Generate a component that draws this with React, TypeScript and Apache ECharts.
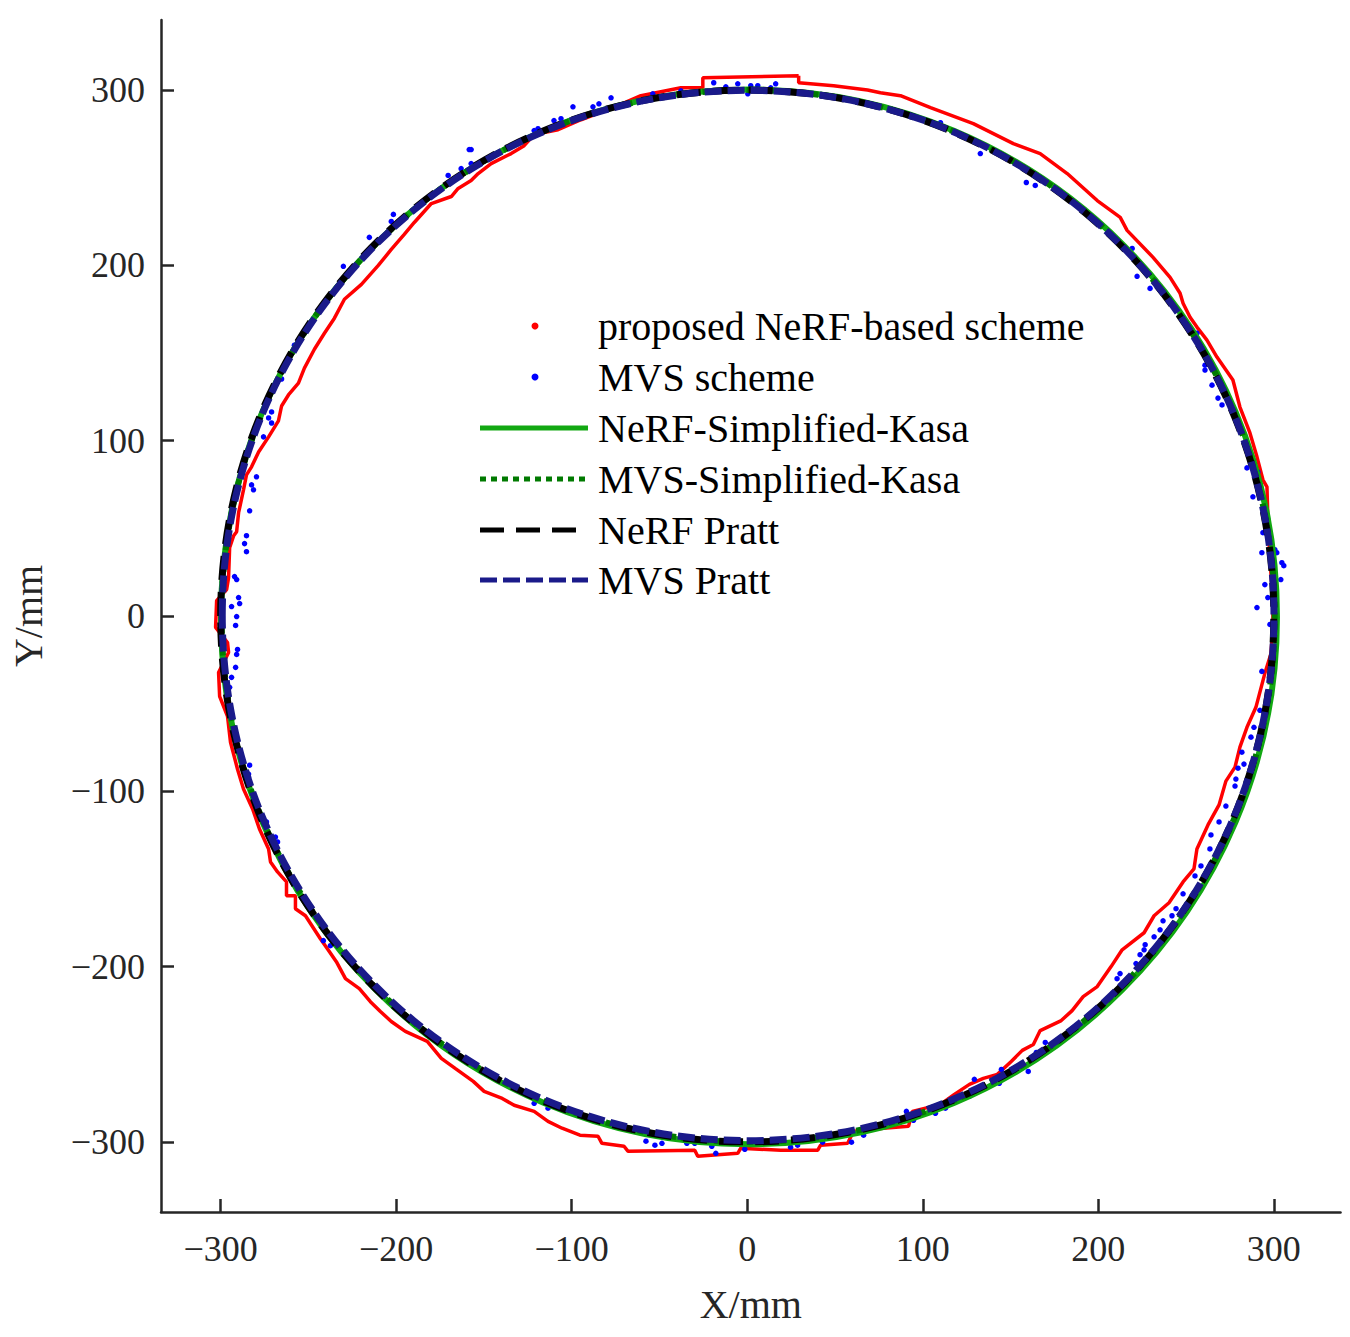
import React, { useEffect, useRef } from "react";
import * as echarts from "echarts";

// ---------- data (units: mm) ----------
const TICKS_X = [-300, -200, -100, 0, 100, 200, 300];
const TICKS_Y = [-300, -200, -100, 0, 100, 200, 300];

// proposed NeRF-based scheme: measured contour
const NERF_POINTS: [number, number][] = [
  [29.3, 308.2], [-25.3, 307.0], [-25.3, 301.3], [-37.8, 301.3], [-60.6, 296.8], [-73.7, 291.1],
  [-94.7, 283.1], [-107.8, 277.4], [-121.4, 274.6], [-127.1, 268.3], [-134.5, 263.8], [-145.9, 258.1],
  [-153.3, 252.4], [-157.3, 248.4], [-164.7, 243.9], [-168.6, 239.3], [-180.0, 235.3], [-189.7, 224.5],
  [-195.4, 217.7], [-202.8, 209.1], [-210.2, 200.0], [-219.8, 189.2], [-229.5, 180.7], [-235.2, 169.9],
  [-240.9, 161.3], [-246.6, 152.2], [-252.3, 141.4], [-255.7, 132.9], [-261.4, 126.1], [-265.3, 119.8],
  [-267.1, 111.3], [-272.7, 102.2], [-278.4, 93.6], [-282.4, 85.1], [-285.3, 80.5], [-287.0, 72.0],
  [-289.8, 58.9], [-290.9, 48.1], [-292.6, 45.8], [-294.9, 39.0], [-295.5, 21.9], [-296.6, 15.1],
  [-302.3, 8.8], [-302.9, -6.5], [-296.1, -15.1], [-295.5, -20.8], [-301.2, -32.2], [-300.6, -45.8],
  [-296.1, -57.2], [-294.4, -72.0], [-290.4, -87.4], [-287.0, -98.7], [-281.8, -110.1], [-277.9, -121.5],
  [-272.7, -132.9], [-271.6, -140.3], [-267.6, -146.0], [-262.5, -151.7], [-262.5, -159.6], [-257.4, -159.6],
  [-257.4, -167.0], [-251.7, -171.0], [-243.2, -184.1], [-239.2, -189.8], [-234.1, -197.2], [-228.9, -206.9],
  [-221.0, -212.6], [-214.7, -220.0], [-209.0, -225.6], [-202.8, -231.3], [-194.8, -237.0], [-182.3, -242.7],
  [-174.3, -252.4], [-166.4, -258.1], [-156.1, -265.5], [-149.9, -271.2], [-139.6, -275.2], [-132.8, -279.1],
  [-121.4, -282.6], [-113.5, -288.3], [-105.5, -292.2], [-95.3, -296.2], [-85.0, -296.8], [-82.8, -300.8],
  [-70.2, -302.5], [-68.0, -305.3], [-29.9, -304.8], [-28.2, -308.2], [-5.4, -306.5], [-3.7, -303.6],
  [19.1, -304.8], [40.1, -304.8], [41.8, -301.9], [57.2, -300.8], [60.6, -293.9], [77.6, -292.2],
  [91.9, -291.1], [94.1, -282.6], [110.1, -278.6], [118.0, -272.9], [126.6, -267.2], [134.5, -263.8],
  [142.5, -261.5], [150.4, -254.1], [156.7, -247.8], [163.0, -244.4], [166.9, -236.5], [178.9, -230.8],
  [185.1, -225.1], [191.4, -217.1], [199.4, -211.4], [207.3, -200.0], [213.6, -190.4], [226.1, -180.7],
  [231.8, -171.0], [240.3, -163.6], [248.3, -151.7], [254.5, -144.3], [256.2, -132.9], [262.5, -119.2],
  [268.8, -107.8], [272.7, -94.2], [277.9, -86.2], [280.7, -74.8], [284.7, -63.5], [289.8, -52.1],
  [294.9, -32.7], [298.3, -21.9], [299.5, -7.7], [299.5, 9.4], [297.8, 32.2], [296.6, 56.6],
  [296.1, 73.7], [293.8, 77.7], [290.4, 90.8], [286.4, 104.4], [280.7, 119.2], [276.7, 134.6],
  [267.6, 147.7], [261.9, 157.4], [256.2, 164.8], [252.3, 170.4], [248.3, 178.4], [246.6, 184.1],
  [240.9, 193.2], [231.2, 204.6], [216.4, 220.0], [212.5, 227.4], [199.4, 237.0], [182.3, 252.4],
  [166.9, 263.8], [151.6, 269.5], [128.8, 280.9], [104.4, 290.0], [87.3, 296.8], [75.9, 298.5],
  [68.5, 300.1], [49.2, 302.5], [29.3, 304.2], [29.3, 308.2],
];

// MVS scheme: scattered points
const MVS_POINTS: [number, number][] = [
  [-170.4, 251.3], [-163.0, 255.2], [-158.4, 266.1], [-157.3, 266.1], [-157.3, 258.1], [-121.4, 276.9],
  [-119.2, 278.0], [-110.1, 282.6], [-106.1, 283.7], [-99.3, 290.5], [-87.9, 290.5], [-84.5, 292.2],
  [-77.6, 295.6], [-53.8, 297.9], [-37.8, 299.6], [-19.1, 304.2], [-12.2, 301.9], [-5.4, 303.6],
  [0.3, 297.9], [2.0, 302.5], [6.0, 302.5], [13.4, 301.3], [16.2, 303.6],
  [110.1, 281.4], [132.8, 263.8], [159.0, 247.3], [164.1, 245.6], [219.3, 209.7], [222.1, 193.8],
  [229.5, 186.9], [256.2, 161.3], [260.8, 143.1], [260.8, 140.3], [264.8, 131.7], [268.2, 124.3],
  [270.5, 120.4], [284.7, 84.5], [288.1, 68.0], [290.9, 82.2], [293.8, 47.5], [293.2, 36.1],
  [300.6, 37.8], [301.7, 36.1], [304.6, 30.4], [305.7, 28.7], [304.0, 20.8], [294.9, 17.9],
  [296.6, 10.5], [290.4, 4.8], [297.8, -4.8], [293.2, -31.6],
  [292.1, -53.8], [288.7, -63.5], [287.0, -69.1], [281.8, -77.7], [283.0, -84.5], [279.6, -86.8],
  [278.4, -93.0], [277.9, -97.0], [272.7, -108.4], [268.8, -117.5], [264.2, -124.9], [263.6, -132.9],
  [258.5, -142.6], [255.1, -148.3], [248.3, -158.5], [244.3, -167.0], [242.0, -171.0], [236.9, -173.9],
  [235.2, -179.0], [231.8, -183.0], [226.7, -187.5], [226.1, -190.4], [223.8, -193.2], [221.5, -198.3],
  [212.4, -204.0], [210.7, -206.9], [169.8, -243.3], [164.7, -249.0], [160.1, -259.8], [144.8, -258.7],
  [143.6, -266.6], [129.4, -264.3], [126.6, -274.0], [112.9, -280.8], [107.2, -283.7], [90.7, -282.6],
  [94.7, -287.7], [66.3, -296.2], [59.4, -300.2], [42.9, -300.2], [28.7, -301.9], [24.7, -303.0],
  [-1.4, -304.2],
  [-17.9, -306.5], [-20.2, -302.5], [-29.9, -300.8], [-34.4, -300.8], [-48.6, -300.8], [-52.6, -301.9],
  [-57.7, -299.6], [-113.5, -280.8], [-121.4, -278.0], [-237.5, -188.1], [-241.5, -185.2], [-267.6, -128.9],
  [-268.8, -126.1], [-273.9, -117.5], [-284.1, -91.9], [-284.1, -90.2], [-283.5, -85.1], [-294.9, -40.7],
  [-293.8, -35.0], [-291.5, -29.3], [-290.9, -21.9],
  [-290.4, -19.1], [-291.5, -5.4], [-290.9, -0.3], [-289.2, 7.1], [-293.8, 5.4], [-289.8, 10.5],
  [-290.9, 20.8], [-292.1, 22.5], [-285.3, 36.7], [-286.4, 41.3], [-285.3, 45.8], [-283.5, 60.0],
  [-281.3, 72.0], [-282.4, 74.8], [-279.6, 79.4], [-275.6, 102.2], [-271.0, 110.1], [-272.7, 113.0],
  [-271.0, 116.4], [-265.3, 135.2], [-258.0, 154.5], [-230.1, 199.5], [-215.3, 216.0], [-202.8, 225.1],
  [-201.6, 229.1],
];

// fitted circles: centre x, centre y, radius
const FIT_NAMES = ["NeRF-Simplified-Kasa", "MVS-Simplified-Kasa", "NeRF Pratt", "MVS Pratt"];
const FIT_CX = [1.0, 0.5, 0.0, 0.5];
const FIT_CY = [-0.5, 0.0, 0.0, 0.3];
const FIT_R = [300.8, 300.0, 300.0, 299.6];

const LEGEND_LABELS = [
  "proposed NeRF-based scheme",
  "MVS scheme",
  "NeRF-Simplified-Kasa",
  "MVS-Simplified-Kasa",
  "NeRF Pratt",
  "MVS Pratt",
];

// ---------- styles ----------
const FONT = "Liberation Serif";
const AXIS_COLOR = "#262626";
const RED = "#ff0000";
const BLUE = "#0000ff";
const FIT_COLORS = ["#12a812", "#007a00", "#000000", "#1a1a8a"];
const FIT_WIDTHS = [6, 6, 7, 7];
const FIT_DASH: (number[] | null)[] = [null, [6, 5], [24, 12], [17, 6]];

const fmt = (v: number) => (v < 0 ? "\u2212" + Math.abs(v) : String(v));

function buildOption() {
  const fitSeries = FIT_NAMES.map((name, i) => ({
    name,
    type: "custom",
    data: [[FIT_CX[i], FIT_CY[i], FIT_R[i]]],
    z: 3 + i,
    silent: true,
    renderItem: (_p: any, api: any) => {
      const c = api.coord([api.value(0), api.value(1)]);
      const s = api.size([api.value(2), api.value(2)]);
      return {
        type: "ellipse",
        shape: { cx: c[0], cy: c[1], rx: s[0], ry: s[1] },
        style: {
          fill: "none",
          stroke: FIT_COLORS[i],
          lineWidth: FIT_WIDTHS[i],
          lineDash: FIT_DASH[i] || undefined,
        },
      };
    },
  }));

  const rowY = [326, 377, 428, 479, 530, 580];
  const legendGraphics: any[] = [
    { type: "circle", shape: { cx: 535, cy: rowY[0], r: 3.5 }, style: { fill: RED } },
    { type: "circle", shape: { cx: 535, cy: rowY[1], r: 3.5 }, style: { fill: BLUE } },
  ];
  for (let i = 0; i < 4; i++) {
    legendGraphics.push({
      type: "line",
      shape: { x1: 480, y1: rowY[i + 2], x2: 588, y2: rowY[i + 2] },
      style: {
        stroke: FIT_COLORS[i],
        lineWidth: 5,
        lineDash: FIT_DASH[i] || undefined,
      },
    });
  }
  LEGEND_LABELS.forEach((t, i) => {
    legendGraphics.push({
      type: "text",
      x: 598,
      y: rowY[i],
      style: {
        text: t,
        fill: "#000",
        font: `40px "${FONT}"`,
        textVerticalAlign: "middle",
        verticalAlign: "middle",
      },
    });
  });

  return {
    animation: false,
    backgroundColor: "#ffffff",
    grid: { left: 158.5, top: 20, width: 1182, height: 1192, containLabel: false },
    xAxis: {
      type: "value",
      min: -334,
      max: 338,
      name: "X/mm",
      nameLocation: "middle",
      nameGap: 72,
      nameTextStyle: { fontFamily: FONT, fontSize: 40, color: AXIS_COLOR },
      axisLine: { show: true, onZero: false, lineStyle: { color: AXIS_COLOR, width: 2.5 } },
      axisTick: {
        show: true,
        inside: true,
        length: 13,
        customValues: TICKS_X,
        lineStyle: { color: AXIS_COLOR, width: 2.5 },
      },
      axisLabel: {
        customValues: TICKS_X,
        formatter: fmt,
        fontFamily: FONT,
        fontSize: 36,
        color: AXIS_COLOR,
        margin: 19,
      },
      splitLine: { show: false },
    },
    yAxis: {
      type: "value",
      min: -340,
      max: 340,
      name: "Y/mm",
      nameLocation: "middle",
      nameGap: 113,
      nameTextStyle: { fontFamily: FONT, fontSize: 40, color: AXIS_COLOR },
      axisLine: { show: true, onZero: false, lineStyle: { color: AXIS_COLOR, width: 2.5 } },
      axisTick: {
        show: true,
        inside: true,
        length: 13,
        customValues: TICKS_Y,
        lineStyle: { color: AXIS_COLOR, width: 2.5 },
      },
      axisLabel: {
        customValues: TICKS_Y,
        formatter: fmt,
        fontFamily: FONT,
        fontSize: 36,
        color: AXIS_COLOR,
        margin: 16,
      },
      splitLine: { show: false },
    },
    series: [
      {
        name: LEGEND_LABELS[0],
        type: "line",
        data: NERF_POINTS,
        showSymbol: false,
        symbol: "none",
        z: 1,
        lineStyle: { color: RED, width: 3.5 },
        silent: true,
      },
      {
        name: LEGEND_LABELS[1],
        type: "scatter",
        data: MVS_POINTS,
        symbolSize: 5.5,
        z: 2,
        itemStyle: { color: BLUE, opacity: 1 },
        silent: true,
      },
      ...fitSeries,
    ],
    graphic: legendGraphics,
  };
}

export default function App() {
  const ref = useRef<HTMLDivElement>(null);
  useEffect(() => {
    if (!ref.current) return;
    const chart = echarts.init(ref.current, null, { renderer: "svg" });
    chart.setOption(buildOption() as any);
    return () => chart.dispose();
  }, []);
  return (
    <div
      ref={ref}
      style={{ position: "absolute", left: 0, top: 0, width: 1350, height: 1337, background: "#fff" }}
    />
  );
}
